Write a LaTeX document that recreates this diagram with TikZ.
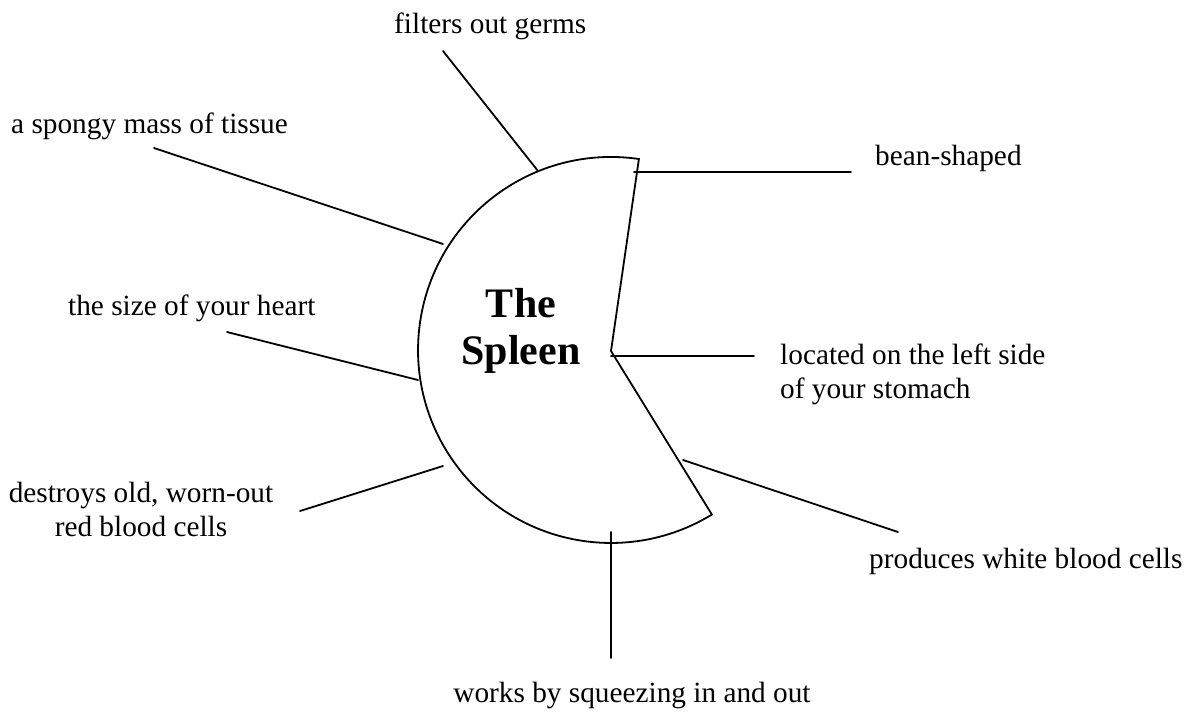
\documentclass[tikz,border=0pt]{standalone}
\usepackage{fontspec}
\setmainfont{Liberation Serif}
\begin{document}
\begin{tikzpicture}[x=1pt,y=-1pt,
  lbl/.style={inner sep=0pt, font=\fontsize{29.3}{34}\selectfont},
  title/.style={inner sep=0pt, align=center, font=\fontsize{42}{47}\selectfont\bfseries},
  conn/.style={line width=1.8pt, line cap=round},
  organ/.style={line width=1.8pt, line join=miter}]
\useasboundingbox (0,0) rectangle (1188,713);

% spleen shape
\coordinate (N) at (611,351);
\coordinate (T) at (638.9,159);
\draw[organ] (N) -- (T) arc[start angle=81.7, end angle=301.5, radius=193pt] -- cycle;

\node[title, anchor=north] (title) at (521,288.5) {The\\Spleen};

% labels
\node[lbl, anchor=base west] (filters) at (394,33) {filters out germs};
\node[lbl, anchor=base west] (spongy) at (11,133) {a spongy mass of tissue};
\node[lbl, anchor=base west] (heart) at (68,315) {the size of your heart};
\node[lbl, anchor=north, align=center] (destroys) at (141,482) {destroys old, worn-out\\red blood cells};
\node[lbl, anchor=base west] (bean) at (875,165) {bean-shaped};
\node[lbl, anchor=north west, align=left] (located) at (780,344) {located on the left side\\of your stomach};
\node[lbl, anchor=base west] (produces) at (869,568) {produces white blood cells};
\node[lbl, anchor=base] (works) at (632,702) {works by squeezing in and out};

% connector end points
\coordinate (f1) at (443,51);   \coordinate (f2) at (538,171);
\coordinate (s1) at (154,148);  \coordinate (s2) at (443,244);
\coordinate (h1) at (227,332);  \coordinate (h2) at (418,380);
\coordinate (d1) at (300,511);  \coordinate (d2) at (443,466);
\coordinate (b1) at (634,172);  \coordinate (b2) at (851,172);
\coordinate (l1) at (611,356);  \coordinate (l2) at (754,356);
\coordinate (p1) at (683,460);  \coordinate (p2) at (898,532);
\coordinate (w1) at (611,532);  \coordinate (w2) at (611,658);

\draw[conn] (f1) -- (f2);
\draw[conn] (s1) -- (s2);
\draw[conn] (h1) -- (h2);
\draw[conn] (d1) -- (d2);
\draw[conn] (b1) -- (b2);
\draw[conn] (l1) -- (l2);
\draw[conn] (p1) -- (p2);
\draw[conn] (w1) -- (w2);
\end{tikzpicture}
\end{document}
